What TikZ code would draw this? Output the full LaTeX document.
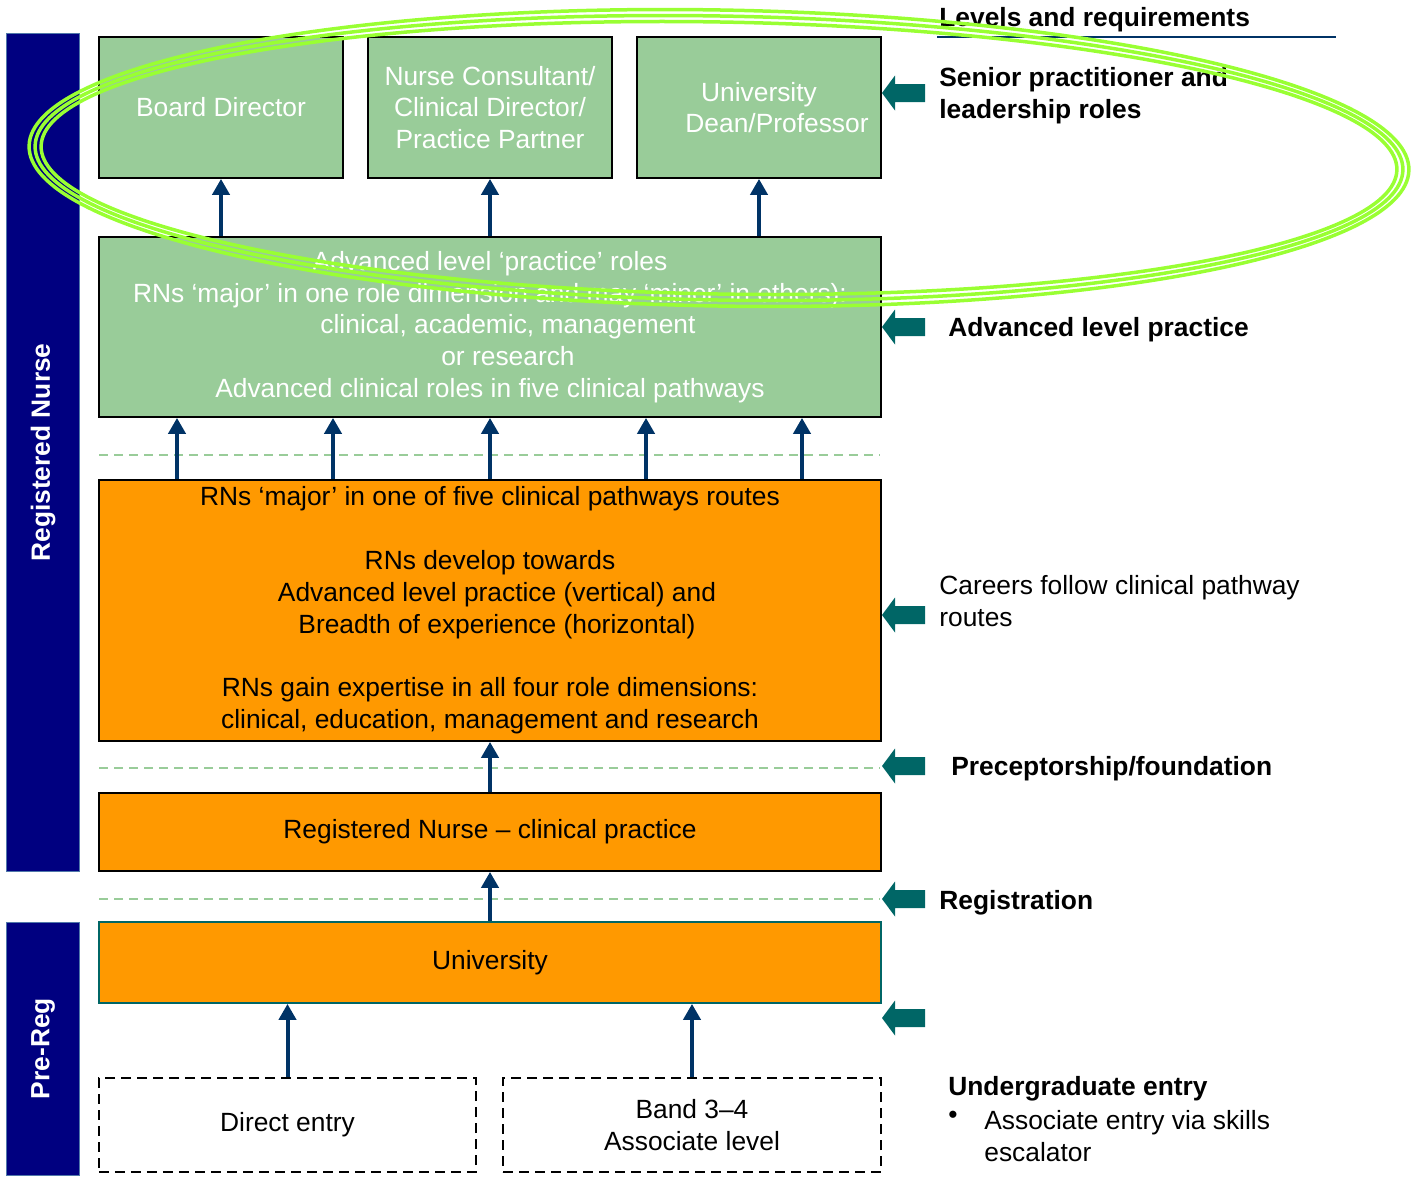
\documentclass[tikz,border=0pt]{standalone}
\usepackage{fontspec}
\setmainfont{Liberation Sans}
\usepackage{tikz}
\usetikzlibrary{arrows.meta, positioning, calc}
\definecolor{mynavy}{RGB}{0,0,128}
\definecolor{myedge}{RGB}{80,120,170}
\definecolor{mygreen}{RGB}{153,204,153}
\definecolor{myorange}{RGB}{255,153,0}
\definecolor{myblue}{RGB}{0,51,102}
\definecolor{myteal}{RGB}{0,102,102}
\definecolor{mylime}{RGB}{153,255,51}
\newcommand{\bodyfont}{\fontsize{15}{18.1}\selectfont}
\tikzset{
  greenbox/.style={rectangle, draw=black, fill=mygreen, text=white,
    align=center, line width=0.35mm, inner sep=0pt},
  orangebox/.style={rectangle, draw=black, fill=myorange,
    align=center, line width=0.35mm, inner sep=0pt},
  entrybox/.style={rectangle, draw=black, dash pattern=on 2mm off 1.2mm,
    align=center, line width=0.35mm, inner sep=0pt,
    minimum height=18.8mm},
  sidebar/.style={rectangle, draw=myedge, fill=mynavy, text=white,
    font=\bodyfont\bfseries, rotate=90, line width=0.2mm, minimum height=14.4mm},
  uparrow/.style={-{Triangle[width=3.4mm,length=3.2mm]}, line width=0.8mm, color=myblue},
  levelline/.style={dash pattern=on 1.8mm off 1.2mm, color=mygreen, line width=0.3mm},
  note/.style={anchor=west, align=left, inner sep=0pt},
  notehead/.style={note, font=\bodyfont\bfseries},
  limering/.style={draw=mylime, line width=0.7mm},
  tealarrow/.pic={
    \fill[myteal] (-21,0) -- (-8,-17.5) -- (-8,-9) -- (22,-9) -- (22,9)
      -- (-8,9) -- (-8,17.5) -- cycle;
  }
}
\begin{document}
\begin{tikzpicture}[x=0.2mm, y=-0.2mm, font=\bodyfont]
  \useasboundingbox (0,0) rectangle (1413,1182);

  % Side bars
  \node[sidebar, minimum width=167.4mm] (rnbar) at (43,452.5) {Registered Nurse};
  \node[sidebar, minimum width=50.6mm] (prebar) at (43,1048.5) {Pre-Reg};

  % Senior roles
  \node[greenbox, minimum width=48.8mm, minimum height=28.2mm] (board) at (221,107.5) {Board Director};
  \node[greenbox, minimum width=48.8mm, minimum height=28.2mm] (consult) at (490,107.5) {Nurse Consultant/\\Clinical Director/\\Practice Partner};
  \node[greenbox, minimum width=48.8mm, minimum height=28.2mm] (dean) at (759,107.5) {University\\\hspace*{7.2mm}Dean/Professor};

  % Advanced level
  \node[greenbox, minimum width=156.4mm, minimum height=36mm] (adv) at (490,327) {Advanced level ‘practice’ roles\\
    RNs ‘major’ in one role dimension and may ‘minor’ in others):\\
    \hspace*{7.2mm}clinical, academic, management\\
    \hspace*{7.2mm}or research\\
    Advanced clinical roles in five clinical pathways};

  % Clinical pathways
  \node[orangebox, minimum width=156.4mm, minimum height=52.2mm] (pathway) at (490,610.5) {RNs ‘major’ in one of five clinical pathways routes\\[18.1pt]
    RNs develop towards\\
    \hspace*{2.8mm}Advanced level practice (vertical) and\\
    \hspace*{2.8mm}Breadth of experience (horizontal)\\[18.1pt]
    RNs gain expertise in all four role dimensions:\\
    clinical, education, management and research};

  \node[orangebox, minimum width=156.4mm, minimum height=15.6mm] (rn) at (490,832) {Registered Nurse – clinical practice};
  \node[orangebox, draw=myteal, minimum width=156.4mm, minimum height=16.2mm] (uni) at (490,962.5) {University};

  % Entry routes
  \node[entrybox, minimum width=75.4mm] (direct) at (287.5,1125) {Direct entry};
  \node[entrybox, minimum width=75.6mm] (band) at (692,1125) {Band 3–4\\Associate level};

  % Level lines
  \foreach \y in {455,768,899} {
    \draw[levelline] (99,\y) -- (880,\y);
  }

  % Progression arrows
  \foreach \b in {board,consult,dean} {
    \draw[uparrow] (adv.north -| \b.south) -- (\b.south);
  }
  \foreach \x in {177,333,490,646,802} {
    \draw[uparrow] (pathway.north -| \x,0) -- (adv.south -| \x,0);
  }
  \draw[uparrow] (rn.north) -- (pathway.south);
  \draw[uparrow] (uni.north) -- (rn.south);
  \draw[uparrow] (direct.north) -- (direct.north |- uni.south);
  \draw[uparrow] (band.north) -- (band.north |- uni.south);

  % Levels and requirements
  \node[notehead] (levels) at (939,20) {Levels and requirements};
  \draw[myblue, line width=0.3mm] (937,37) -- (1336,37);
  \foreach \y in {93,327,615,766,899,1018} {
    \pic at (903,\y) {tealarrow};
  }
  \node[notehead] (senior) at (939,96) {Senior practitioner and\\leadership roles};
  \node[notehead] (advnote) at (948,330) {Advanced level practice};
  \node[note] (careers) at (939,601) {Careers follow clinical pathway\\routes};
  \node[notehead] (precept) at (951,769) {Preceptorship/foundation};
  \node[notehead] (regist) at (939,903) {Registration};
  \node[notehead] (ugrad) at (948,1089) {Undergraduate entry};
  \node[inner sep=0pt] (bullet) at (953,1117) {\textbullet};
  \node[note] (assoc) at (984,1136) {Associate entry via skills\\escalator};

  % Highlight ring
  \foreach \rx/\ry in {678/136,684/142,690/148} {
    \draw[limering, rotate around={-1:(719,158)}] (719,158) ellipse [x radius=\rx, y radius=\ry];
  }
\end{tikzpicture}
\end{document}
